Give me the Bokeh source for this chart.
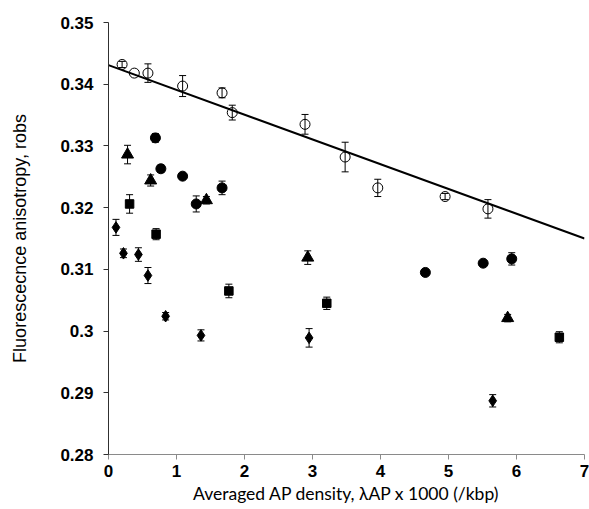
from bokeh.plotting import figure
from bokeh.models import Range1d, Whisker, ColumnDataSource, FixedTicker
from bokeh.embed import file_html
from bokeh.resources import INLINE

# ---------------- data ----------------
open_x = [0.20, 0.38, 0.58, 1.09, 1.67, 1.82, 2.89, 3.48, 3.96, 4.95, 5.58]
open_y = [0.3432, 0.3418, 0.3418, 0.3397, 0.3386, 0.3354, 0.3335, 0.3282, 0.3232, 0.3218, 0.3198]
open_err = [0.0005, 0.0, 0.0015, 0.0017, 0.0008, 0.0012, 0.0016, 0.0024, 0.0014, 0.0005, 0.0015]

filled_x = [0.69, 0.77, 1.09, 1.29, 1.67, 4.66, 5.51, 5.93]
filled_y = [0.3313, 0.3263, 0.3251, 0.3206, 0.3232, 0.3095, 0.3110, 0.3117]
filled_err = [0.0007, 0.0006, 0.0003, 0.0013, 0.0011, 0.0, 0.0, 0.0010]

tri_x = [0.28, 0.62, 1.44, 2.93, 5.87]
tri_y = [0.3286, 0.3244, 0.3212, 0.3119, 0.3021]
tri_err = [0.0015, 0.0009, 0.0006, 0.0011, 0.0006]

sq_x = [0.31, 0.70, 1.77, 3.21, 6.63]
sq_y = [0.3206, 0.3157, 0.3065, 0.3045, 0.2990]
sq_err = [0.0015, 0.0009, 0.0011, 0.0010, 0.0009]

dia_x = [0.11, 0.22, 0.44, 0.58, 0.84, 1.36, 2.95, 5.65]
dia_y = [0.3168, 0.3126, 0.3124, 0.3090, 0.3024, 0.2993, 0.2989, 0.2887]
dia_err = [0.0013, 0.0007, 0.0011, 0.0013, 0.0006, 0.0009, 0.0015, 0.0010]

fit_intercept = 0.3431
fit_slope = -0.004014

x_ticks = [0, 1, 2, 3, 4, 5, 6, 7]
x_tick_labels = ["0", "1", "2", "3", "4", "5", "6", "7"]
y_ticks = [0.28, 0.29, 0.30, 0.31, 0.32, 0.33, 0.34, 0.35]
y_tick_labels = ["0.28", "0.29", "0.3", "0.31", "0.32", "0.33", "0.34", "0.35"]

x_title = "Averaged AP density, λAP x 1000 (/kbp)"
y_title = "Fluorescecnce anisotropy, robs"

X_MIN, X_MAX = 0, 7
Y_MIN, Y_MAX = 0.28, 0.35

# ---------------- layout ----------------
W, H = 589, 509
BL, BR, BT, BB = 108, 5, 22, 55

p = figure(width=W, height=H, x_range=Range1d(X_MIN, X_MAX), y_range=Range1d(Y_MIN, Y_MAX),
           output_backend="svg", toolbar_location=None,
           min_border_left=BL, min_border_right=BR, min_border_top=BT, min_border_bottom=BB)
p.outline_line_color = None
p.grid.visible = False
p.background_fill_color = "white"

p.xaxis.ticker = FixedTicker(ticks=x_ticks)
p.xaxis.major_label_overrides = {t: l for t, l in zip(x_ticks, x_tick_labels)}
p.yaxis.ticker = FixedTicker(ticks=y_ticks)
p.yaxis.major_label_overrides = {t: l for t, l in zip(y_ticks, y_tick_labels)}

for ax in (p.xaxis[0], p.yaxis[0]):
    ax.minor_tick_line_color = None
    ax.major_tick_in = 0
    ax.major_tick_out = 5
    ax.major_label_text_font = "Liberation Sans"
    ax.major_label_text_font_style = "bold"
    ax.major_label_text_font_size = "17px"
    ax.major_label_text_color = "black"
    ax.axis_label_text_font_style = "normal"
    ax.axis_label_text_color = "black"

p.xaxis.axis_label = x_title
p.xaxis.axis_label_text_font = "Lato"
p.xaxis.axis_label_text_font_size = "17.5px"
p.xaxis.axis_label_standoff = 3
p.xaxis.major_label_standoff = 5

p.yaxis.axis_label = y_title
p.yaxis.axis_label_text_font = "Liberation Sans"
p.yaxis.axis_label_text_font_size = "18px"
p.yaxis.axis_label_standoff = 27
p.yaxis.major_label_standoff = 10

p.xaxis.axis_line_color = "#8a8a8a"
p.xaxis.major_tick_line_color = "#8a8a8a"
p.yaxis.axis_line_color = "#303030"
p.yaxis.major_tick_line_color = "#303030"

# error bars
def add_err(xs, ys, es):
    bx = [x for x, e in zip(xs, es) if e > 0]
    up = [y + e for y, e in zip(ys, es) if e > 0]
    lo = [y - e for y, e in zip(ys, es) if e > 0]
    src = ColumnDataSource(dict(x=bx, upper=up, lower=lo))
    w = Whisker(base="x", upper="upper", lower="lower", source=src, dimension="height",
                line_color="black", line_width=1)
    for h in (w.upper_head, w.lower_head):
        h.size = 7
        h.line_color = "black"
        h.line_width = 1
    p.add_layout(w)

for xs, ys, es in [(open_x, open_y, open_err), (filled_x, filled_y, filled_err),
                   (tri_x, tri_y, tri_err), (sq_x, sq_y, sq_err), (dia_x, dia_y, dia_err)]:
    add_err(xs, ys, es)

# regression line
fit_x = [X_MIN, X_MAX]
fit_y = [fit_intercept + fit_slope * x for x in fit_x]
p.line(fit_x, fit_y, line_color="black", line_width=2)

p.scatter(open_x, open_y, marker="circle", size=10, fill_color=None, line_color="black", line_width=1)
p.scatter(filled_x, filled_y, marker="circle", size=10, fill_color="black", line_color="black")
p.scatter(tri_x, tri_y, marker="triangle", size=12, fill_color="black", line_color="black")
p.scatter(sq_x, sq_y, marker="square", size=8.5, fill_color="black", line_color="black")
p.scatter(dia_x, dia_y, marker="diamond", size=11.5, fill_color="black", line_color="black")

open("out.html", "w").write(file_html(p, INLINE))
